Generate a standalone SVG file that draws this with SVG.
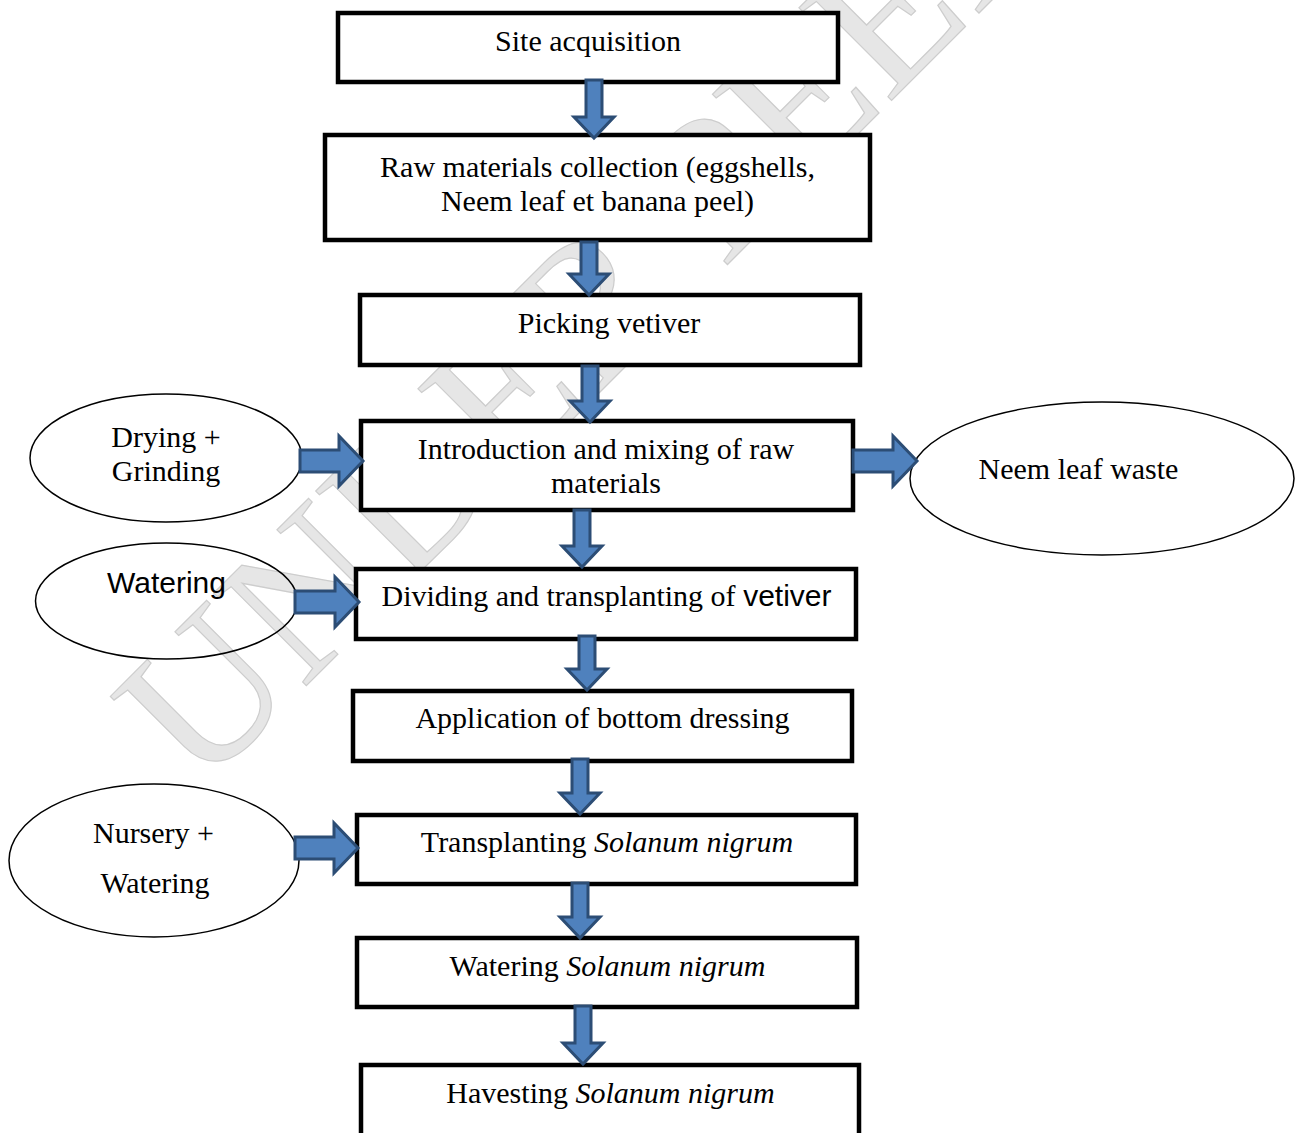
<svg xmlns="http://www.w3.org/2000/svg" width="1296" height="1133" viewBox="0 0 1296 1133">
<style>
.box{fill:#fff;stroke:#000;stroke-width:4.5}
.ell{fill:none;stroke:#000;stroke-width:1.5}
.t{font-family:"Liberation Serif","Times New Roman",serif;font-size:30px;fill:#000;text-anchor:middle}
.s{font-family:"Liberation Sans",Arial,sans-serif}
.i{font-style:italic}
.arr{fill:#4f81bd;stroke:#2c4d75;stroke-width:3;stroke-linejoin:miter}
.wm{font-family:"Liberation Serif","Times New Roman",serif;font-size:200px;fill:#e6e6e6;stroke:#cdcdcd;stroke-width:1.2}
</style>
<rect width="1296" height="1133" fill="#fff"/>
<text class="wm" transform="translate(200,792) rotate(-45)">UNDER PEER REVIEW</text>

<g id="n1"><rect class="box" x="338" y="13" width="500" height="69"/><text class="t" x="588" y="51">Site acquisition</text></g>
<g id="n2"><rect class="box" x="325" y="135" width="545" height="105"/><text class="t" x="597.5" y="177">Raw materials collection (eggshells,</text><text class="t" x="597.5" y="211">Neem leaf et banana peel)</text></g>
<g id="n3"><rect class="box" x="360" y="295" width="500" height="70"/><text class="t" x="609" y="333">Picking vetiver</text></g>
<g id="n4"><rect class="box" x="361" y="421" width="492" height="89"/><text class="t" x="606" y="459">Introduction and mixing of raw</text><text class="t" x="606" y="493">materials</text></g>
<g id="n5"><rect class="box" x="356" y="569" width="500" height="70"/><text class="t" x="606.5" y="606">Dividing and transplanting of <tspan class="s">vetiver</tspan></text></g>
<g id="n6"><rect class="box" x="353" y="691" width="499" height="70"/><text class="t" x="602.5" y="728">Application of bottom dressing</text></g>
<g id="n7"><rect class="box" x="357" y="815" width="499" height="69"/><text class="t" x="607" y="852">Transplanting <tspan class="i">Solanum nigrum</tspan></text></g>
<g id="n8"><rect class="box" x="357" y="938" width="500" height="69"/><text class="t" x="607.5" y="976">Watering <tspan class="i">Solanum nigrum</tspan></text></g>
<g id="n9"><rect class="box" x="361" y="1065" width="498" height="80"/><text class="t" x="610.5" y="1103">Havesting <tspan class="i">Solanum nigrum</tspan></text></g>

<g id="e1"><ellipse class="ell" cx="166" cy="458" rx="136" ry="64"/><text class="t" x="166" y="447">Drying +</text><text class="t" x="166" y="481">Grinding</text></g>
<g id="e2"><ellipse class="ell" cx="1102" cy="478.5" rx="192" ry="76.5"/><text class="t" x="1078.5" y="479">Neem leaf waste</text></g>
<g id="e3"><ellipse class="ell" cx="166.5" cy="601" rx="131" ry="58"/><text class="t s" x="166.5" y="593">Watering</text></g>
<g id="e4"><ellipse class="ell" cx="154" cy="860.5" rx="145" ry="76.5"/><text class="t" x="153.5" y="843">Nursery +</text><text class="t" x="155" y="893">Watering</text></g>

<g id="connectors">
<path class="arr" d="M586,80 H602 V117 H614 L594,138 L574,117 H586 Z"/>
<path class="arr" d="M581,242 H597 V274 H609 L589,295 L569,274 H581 Z"/>
<path class="arr" d="M582,366 H598 V401 H610 L590,422 L570,401 H582 Z"/>
<path class="arr" d="M574,510 H590 V546 H602 L582,567 L562,546 H574 Z"/>
<path class="arr" d="M579,636 H595 V669 H607 L587,690 L567,669 H579 Z"/>
<path class="arr" d="M572,759 H588 V793 H600 L580,814 L560,793 H572 Z"/>
<path class="arr" d="M572,883 H588 V917 H600 L580,938 L560,917 H572 Z"/>
<path class="arr" d="M575,1006 H591 V1043 H603 L583,1064 L563,1043 H575 Z"/>
<path class="arr" d="M300,450 H339 V436 L363,461 L339,486 V472 H300 Z"/>
<path class="arr" d="M853,450 H893 V436 L917,461 L893,486 V472 H853 Z"/>
<path class="arr" d="M295,591 H335 V577 L359,602 L335,627 V613 H295 Z"/>
<path class="arr" d="M295,837 H334 V823 L358,848 L334,873 V859 H295 Z"/>
</g>
</svg>
